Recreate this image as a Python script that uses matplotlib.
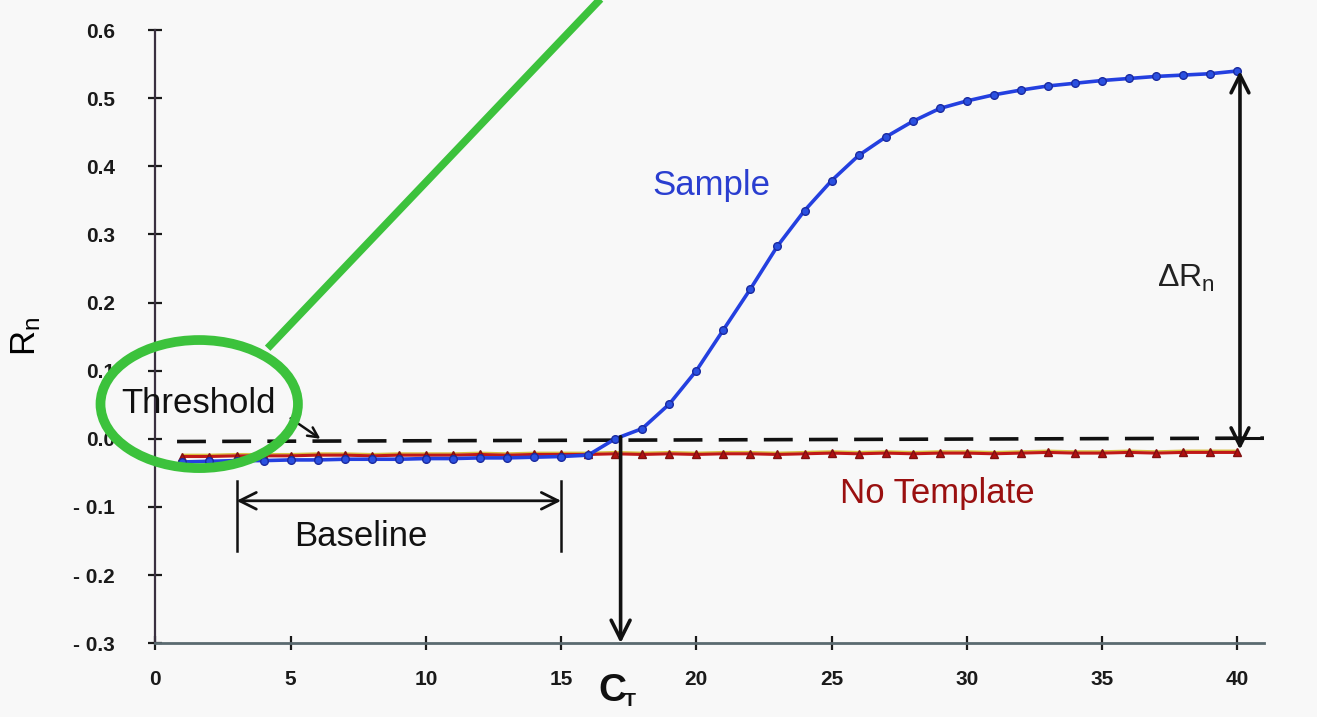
import matplotlib
matplotlib.use("Agg")
import matplotlib.pyplot as plt
from matplotlib.patches import Ellipse
from matplotlib import font_manager

# Amplification plot data: normalized reporter signal per PCR cycle
CYCLES = list(range(1, 41))
SAMPLE_RN = [
    -0.034, -0.033, -0.032, -0.032, -0.031, -0.031, -0.030, -0.030, -0.030, -0.029,
    -0.029, -0.028, -0.028, -0.027, -0.026, -0.024, 0.000, 0.015, 0.051, 0.100,
    0.160, 0.220, 0.283, 0.335, 0.379, 0.416, 0.443, 0.466, 0.485, 0.496,
    0.505, 0.512, 0.518, 0.522, 0.526, 0.529, 0.532, 0.534, 0.536, 0.540,
]
NO_TEMPLATE_RN = [
    -0.026, -0.026, -0.025, -0.025, -0.025, -0.024, -0.024, -0.025, -0.024, -0.024,
    -0.024, -0.023, -0.024, -0.023, -0.023, -0.023, -0.022, -0.023, -0.022, -0.023,
    -0.022, -0.022, -0.023, -0.022, -0.021, -0.022, -0.021, -0.022, -0.021, -0.021,
    -0.022, -0.021, -0.020, -0.021, -0.021, -0.020, -0.021, -0.020, -0.020, -0.020,
]
THRESHOLD_X = [0.8, 41.0]
THRESHOLD_Y = [-0.004, 0.001]
BASELINE_START = 3
BASELINE_END = 15
CT_CYCLE = 17.2
Y_TICKS = [-0.3, -0.2, -0.1, 0.0, 0.1, 0.2, 0.3, 0.4, 0.5, 0.6]
Y_TICK_LABELS = ["- 0.3", "- 0.2", "- 0.1", "0.0", "0.1", "0.2", "0.3", "0.4", "0.5", "0.6"]
X_TICKS = [0, 5, 10, 15, 20, 25, 30, 35, 40]

installed = {f.name for f in font_manager.fontManager.ttflist}
NARROW = "Liberation Sans Narrow" if "Liberation Sans Narrow" in installed else "Liberation Sans"

plt.rcParams["font.family"] = ["Liberation Sans", "DejaVu Sans"]
plt.rcParams["mathtext.fontset"] = "custom"
plt.rcParams["mathtext.rm"] = "Liberation Sans"
plt.rcParams["mathtext.it"] = "Liberation Sans"
plt.rcParams["mathtext.bf"] = "Liberation Sans:bold"

fig = plt.figure(figsize=(13.17, 7.17), dpi=100, facecolor="#f8f8f8")
ax = fig.add_axes([0.118, 0.103, 0.842, 0.855])
ax.set_facecolor("#f8f8f8")
ax.set_xlim(0, 41)
ax.set_ylim(-0.3, 0.6)

for side in ("top", "right"):
    ax.spines[side].set_visible(False)
ax.spines["left"].set_color("#3a3040")
ax.spines["left"].set_linewidth(1.6)
ax.spines["bottom"].set_color("#5a6a70")
ax.spines["bottom"].set_linewidth(2.0)

ax.set_yticks(Y_TICKS)
ax.set_yticklabels(Y_TICK_LABELS)
ax.set_xticks(X_TICKS)
ax.tick_params(axis="y", direction="inout", length=10, width=1.6, pad=24,
               labelsize=15, colors="#1a1a1a")
ax.tick_params(axis="x", direction="inout", length=10, width=1.6, pad=14,
               labelsize=15, colors="#1a1a1a")
for lbl in ax.get_xticklabels() + ax.get_yticklabels():
    lbl.set_fontweight("bold")

ax.set_ylabel(r"$\mathrm{R}_\mathrm{n}$", fontsize=25, labelpad=22)

# threshold line
ax.plot(THRESHOLD_X, THRESHOLD_Y, color="#111111", lw=2.6,
        dashes=(8, 4.5), zorder=3)

# no template control
ax.plot(CYCLES, [v + 0.003 for v in NO_TEMPLATE_RN], color="#d8c040", lw=1.2, zorder=3)
ax.plot(CYCLES, NO_TEMPLATE_RN, color="#c01818", lw=2.2, marker="^", ms=6,
        markerfacecolor="#b01010", markeredgecolor="#801010", zorder=4)

# sample
ax.plot(CYCLES, SAMPLE_RN, color="#2440e0", lw=2.6, marker="o", ms=5.5,
        markerfacecolor="#2a50e0", markeredgecolor="#1a2aa0", zorder=5)

ax.text(20.55, 0.372, "Sample", color="#2a3ed0", fontsize=25, family=NARROW,
        ha="center", va="center")
ax.text(28.9, -0.08, "No Template", color="#9a1010", fontsize=25, family=NARROW,
        ha="center", va="center")
ax.text(38.1, 0.236, r"$\Delta\mathrm{R}_\mathrm{n}$", color="#222222", fontsize=23,
        ha="center", va="center")

# delta Rn arrow between plateau and no-template level
ax.annotate("", xy=(40.1, SAMPLE_RN[-1]), xytext=(40.1, NO_TEMPLATE_RN[-1] + 0.004),
            arrowprops=dict(arrowstyle="<->", lw=2.6, color="#111111",
                            mutation_scale=32, shrinkA=0, shrinkB=0), zorder=6)
ax.plot([39.3, 41.0], [0.001, 0.001], color="#111111", lw=2.2, zorder=6)

# baseline bracket
for x in (BASELINE_START, BASELINE_END):
    ax.plot([x, x], [-0.062, -0.165], color="#111111", lw=1.8, zorder=6)
ax.annotate("", xy=(BASELINE_START, -0.091), xytext=(BASELINE_END, -0.091),
            arrowprops=dict(arrowstyle="<->", lw=2.0, color="#111111",
                            mutation_scale=30, shrinkA=0, shrinkB=0))
ax.text(7.6, -0.143, "Baseline", color="#111111", fontsize=25, family=NARROW,
        ha="center", va="center")

# threshold cycle arrow
ax.annotate("", xy=(CT_CYCLE, -0.3), xytext=(CT_CYCLE, 0.003),
            arrowprops=dict(arrowstyle="->", lw=2.6, color="#111111",
                            mutation_scale=34, shrinkA=0, shrinkB=0),
            annotation_clip=False, zorder=6)
ax.text(16.9, -0.37, "C", fontsize=28, fontweight="bold", color="#111111",
        ha="center", va="center", clip_on=False)
ax.text(17.55, -0.385, "T", fontsize=14, fontweight="bold", color="#111111",
        ha="center", va="center", clip_on=False)

# threshold label
ax.text(1.6, 0.052, "Threshold", color="#111111", fontsize=25, family=NARROW,
        ha="center", va="center", zorder=7)
ax.annotate("", xy=(6.1, 0.0), xytext=(5.0, 0.03),
            arrowprops=dict(arrowstyle="->", lw=1.8, color="#111111",
                            mutation_scale=18, shrinkA=0, shrinkB=0), zorder=7)

# green highlight ring with pointer line
ring = Ellipse((1.62, 0.051), 7.3, 0.188, fill=False, edgecolor="#3cc23c",
               lw=7, clip_on=False, zorder=8)
ax.add_patch(ring)
ax.plot([4.15, 16.8], [0.133, 0.66], color="#3cc23c", lw=5.5,
        solid_capstyle="butt", clip_on=False, zorder=8)

fig.savefig("out.png", dpi=100, facecolor=fig.get_facecolor())
